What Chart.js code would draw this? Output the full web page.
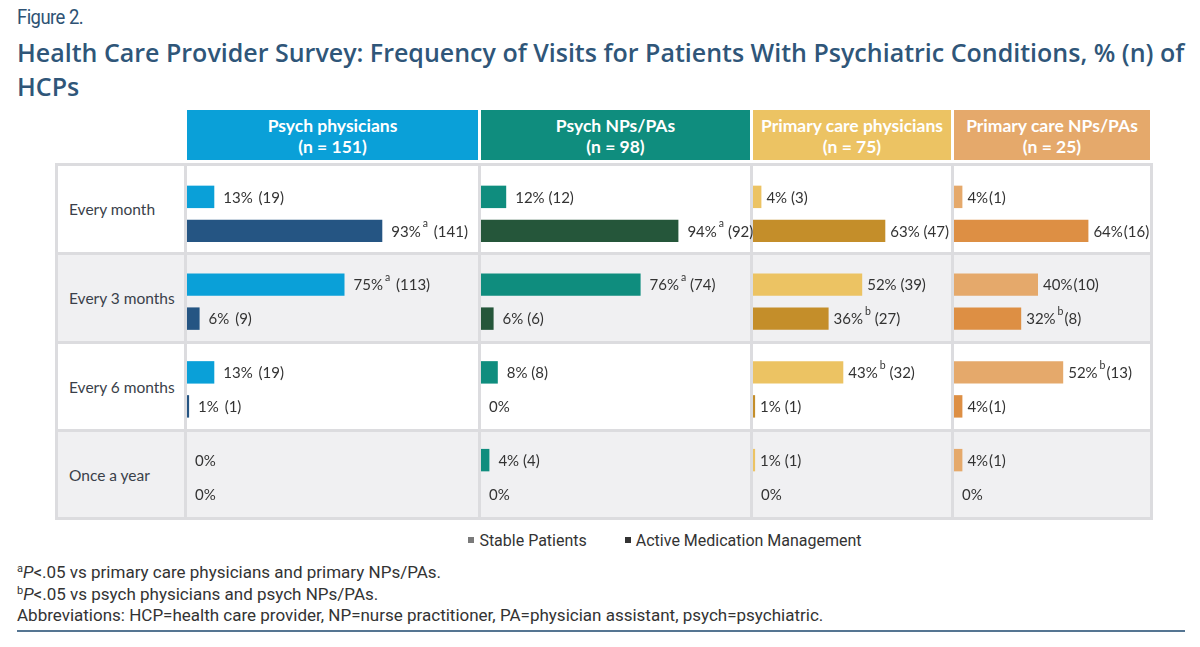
<!DOCTYPE html>
<html>
<head>
<meta charset="utf-8">
<script src="https://cdn.jsdelivr.net/npm/chart.js@4.4.0/dist/chart.umd.min.js"></script>
<style>
  html, body { margin: 0; padding: 0; background: #fff; }
  #page { position: relative; width: 1200px; height: 647px; overflow: hidden; font-family: Lato, "Open Sans", sans-serif; }
  .fig { position: absolute; left: 17px; top: 5px; font: 20.5px Roboto, sans-serif; letter-spacing: -0.6px; color: #2e5274; transform: scaleX(0.9); transform-origin: left; }
  .title { position: absolute; left: 17px; top: 35px; width: 1183px; font: 600 25px "Open Sans", sans-serif; line-height: 34px; color: #2f5679; white-space: nowrap; }
  .grid { position: absolute; left: 55px; display: grid; grid-template-columns: 126px 291px 269px 198px 196px; column-gap: 3px; }
  #head { top: 110px; padding: 0 3px; grid-template-rows: 50px; }
  #head div { color: #fff; font: bold 17.5px Lato, sans-serif; text-align: center; line-height: 21px; padding-top: 5px; box-sizing: border-box; }
  #body { top: 163px; padding: 3px; background: #dcdcdf; grid-template-rows: 86px 86px 85px 85px; row-gap: 3px; }
  #body div { background: #fff; }
  #body div.alt { background: #f0f0f2; }
  #body div.lab { font: 15.5px Lato, sans-serif; color: #3a3f4a; padding-left: 11px; display: flex; align-items: center; }
  canvas.panel { position: absolute; }
  .legend { position: absolute; top: 531px; left: 0; width: 1330px; text-align: center; font: 16px Roboto, sans-serif; color: #333; }
  .legend span { margin: 0 19px; }
  .legend i { display: inline-block; width: 6px; height: 6px; margin-right: 5px; vertical-align: 3px; }
  .notes { position: absolute; left: 17px; top: 562px; font: 17px Roboto, sans-serif; line-height: 21.5px; color: #333; white-space: nowrap; }
  .notes sup { font-size: 11px; vertical-align: 6px; line-height: 0; }
  .rule { position: absolute; left: 17px; top: 630px; width: 1168px; height: 2px; background: #557592; }
</style>
</head>
<body>
<div id="page">
  <div class="fig">Figure 2.</div>
  <div class="title">Health Care Provider Survey: Frequency of Visits for Patients With Psychiatric Conditions, % (n) of<br>HCPs</div>
  <div class="grid" id="head"></div>
  <div class="grid" id="body"></div>
  <div class="legend" id="legend"></div>
  <div class="notes">
    <sup>a</sup><i>P</i>&lt;.05 vs primary care physicians and primary NPs/PAs.<br>
    <sup>b</sup><i>P</i>&lt;.05 vs psych physicians and psych NPs/PAs.<br>
    Abbreviations: HCP=health care provider, NP=nurse practitioner, PA=physician assistant, psych=psychiatric.
  </div>
  <div class="rule"></div>
</div>
<script>
// ---------- data ----------
const categories = ['Every month', 'Every 3 months', 'Every 6 months', 'Once a year'];
const groups = ['Psych physicians', 'Psych NPs/PAs', 'Primary care physicians', 'Primary care NPs/PAs'];
const groupN = [151, 98, 75, 25];
const seriesNames = ['Stable Patients', 'Active Medication Management'];

// percent / count / significance letter, one row per group
const stablePct = [[13, 75, 13, 0], [12, 76, 8, 4], [4, 52, 43, 1], [4, 40, 52, 4]];
const stableN   = [[19, 113, 19, 0], [12, 74, 8, 4], [3, 39, 32, 1], [1, 10, 13, 1]];
const stableSup = [['', 'a', '', ''], ['', 'a', '', ''], ['', '', 'b', ''], ['', '', 'b', '']];
const activePct = [[93, 6, 1, 0], [94, 6, 0, 0], [63, 36, 1, 0], [64, 32, 4, 0]];
const activeN   = [[141, 9, 1, 0], [92, 6, 0, 0], [47, 27, 1, 0], [16, 8, 1, 0]];
const activeSup = [['a', '', '', ''], ['a', '', '', ''], ['', 'b', '', ''], ['', 'b', '', '']];

// ---------- styles ----------
const headColors   = ['#0aa0d8', '#0f8d7e', '#ecc363', '#e5a96b'];
const stableColors = ['#0aa0d8', '#0f8d7e', '#ecc363', '#e5a96b'];
const activeColors = ['#255583', '#25563a', '#c48e2a', '#dd8f44'];
const pxPerPct = 2.1;

const head = document.getElementById('head');
const body = document.getElementById('body');
const page = document.getElementById('page');

head.appendChild(document.createElement('span'));
groups.forEach((g, i) => {
    const d = document.createElement('div');
    d.style.background = headColors[i];
    d.innerHTML = g + '<br>(n = ' + groupN[i] + ')';
    head.appendChild(d);
});

const panelCells = [];
categories.forEach((c, r) => {
    const lab = document.createElement('div');
    lab.className = 'lab' + (r % 2 ? ' alt' : '');
    lab.textContent = c;
    body.appendChild(lab);
    groups.forEach((g, i) => {
        const d = document.createElement('div');
        if (r % 2) d.className = 'alt';
        body.appendChild(d);
        if (r === 0) panelCells.push(d);
    });
});

document.getElementById('legend').innerHTML =
    '<span><i style="background:#7a7a7a"></i>' + seriesNames[0] + '</span>' +
    '<span><i style="background:#333"></i>' + seriesNames[1] + '</span>';

// value labels drawn after bars
function labelPlugin(p) {
    return {
        id: 'barLabels' + p,
        afterDatasetsDraw(chart) {
            const ctx = chart.ctx;
            const pcts = [stablePct[p], activePct[p]];
            const ns = [stableN[p], activeN[p]];
            const sups = [stableSup[p], activeSup[p]];
            ctx.save();
            ctx.fillStyle = '#333';
            ctx.textBaseline = 'middle';
            chart.data.datasets.forEach((ds, di) => {
                chart.getDatasetMeta(di).data.forEach((bar, i) => {
                    const v = pcts[di][i];
                    let x = v > 0 ? bar.x + (p < 2 ? 9 : 5) : bar.base + 8;
                    const y = bar.y + 1;
                    ctx.font = '15px Lato';
                    ctx.fillText(v + '%', x, y);
                    x += ctx.measureText(v + '%').width;
                    if (sups[di][i]) {
                        ctx.font = '10.5px Lato';
                        ctx.fillText(sups[di][i], x + 2, y - 8);
                        x += ctx.measureText(sups[di][i]).width + 2;
                    }
                    if (v > 0) {
                        ctx.font = '15px Lato';
                        ctx.fillText((p === 3 ? '' : ' ') + '(' + ns[di][i] + ')', x + (p === 0 ? 2 : p === 3 ? 1 : 0), y);
                    }
                });
            });
            ctx.restore();
        }
    };
}

const pageRect = page.getBoundingClientRect();
panelCells.forEach((cell, p) => {
    const r = cell.getBoundingClientRect();
    const cv = document.createElement('canvas');
    cv.className = 'panel';
    // canvas runs a little past the cell so labels are not clipped
    const w = Math.round(r.width) + 24, h = 351;
    cv.width = w; cv.height = h;
    cv.style.left = (r.left - pageRect.left) + 'px';
    cv.style.top = '170px';
    cv.style.width = w + 'px'; cv.style.height = h + 'px';
    page.appendChild(cv);

    new Chart(cv.getContext('2d'), {
        type: 'bar',
        data: {
            labels: categories,
            datasets: [
                { label: seriesNames[0], data: stablePct[p], backgroundColor: stableColors[p] },
                { label: seriesNames[1], data: activePct[p], backgroundColor: activeColors[p] }
            ]
        },
        options: {
            indexAxis: 'y',
            responsive: false,
            animation: false,
            layout: { padding: 0 },
            categoryPercentage: 0.775,
            barPercentage: 0.66,
            plugins: { legend: { display: false }, tooltip: { enabled: false } },
            scales: {
                x: { display: false, min: 0, max: w / pxPerPct },
                y: { display: false }
            }
        },
        plugins: [labelPlugin(p)]
    });
});
</script>
</body>
</html>
